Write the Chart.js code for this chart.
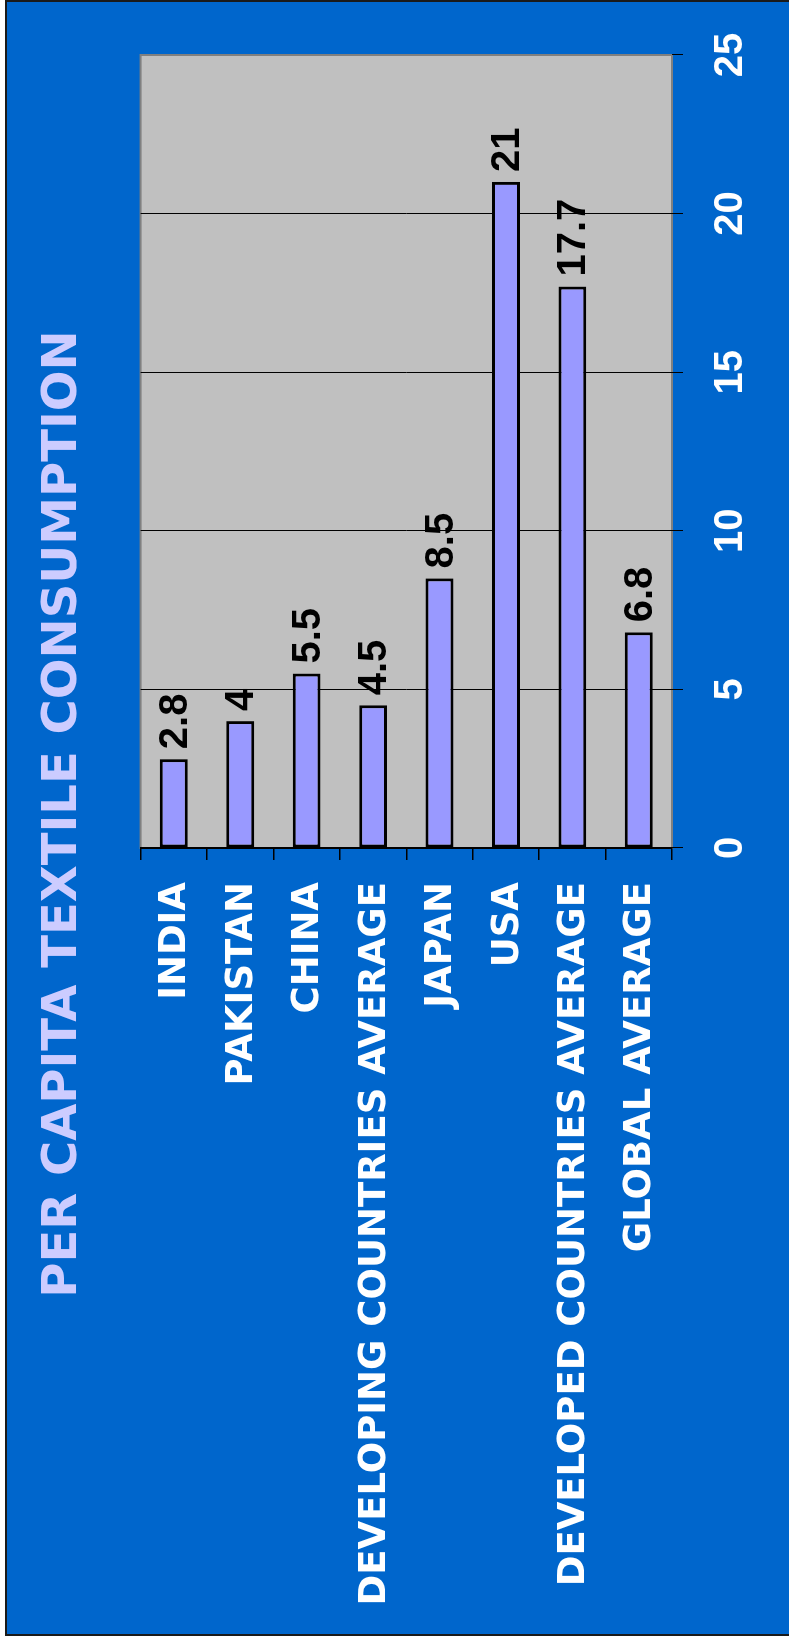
<!DOCTYPE html>
<html>
<head>
<meta charset="utf-8">
<title>Per Capita Textile Consumption</title>
<script src="https://cdn.jsdelivr.net/npm/chart.js@4"></script>
<style>
  html, body { margin: 0; padding: 0; background: #fff; overflow: hidden; }
  body { width: 789px; height: 1644px; position: relative; }
  #frame {
    position: absolute; left: 5px; top: 0; width: 790px; height: 1636px;
    box-sizing: border-box; background: #0066CC;
    border: 2px solid #1a1a1a; border-right: none;
  }
  /* the chart is laid out landscape and turned a quarter turn to stand upright */
  #wrap {
    position: absolute; left: 0; top: 0; width: 1644px; height: 789px;
    transform-origin: 0 0; transform: translateY(1644px) rotate(-90deg);
  }
</style>
</head>
<body>
<div id="frame"></div>
<div id="wrap"><canvas id="chart" width="1644" height="789"></canvas></div>
<script>
// Data
const categories = ['INDIA', 'PAKISTAN', 'CHINA', 'DEVELOPING COUNTRIES AVERAGE', 'JAPAN', 'USA', 'DEVELOPED COUNTRIES AVERAGE', 'GLOBAL AVERAGE'];
const consumption = [2.8, 4, 5.5, 4.5, 8.5, 21, 17.7, 6.8];
const valueTicks = [0, 5, 10, 15, 20, 25];

// Grey plot area with its frame
const plotBackground = {
  id: 'plotBackground',
  beforeDraw(chart) {
    const { ctx, chartArea: a } = chart;
    ctx.save();
    ctx.fillStyle = '#C0C0C0';
    ctx.fillRect(a.left, a.top, a.right - a.left, a.bottom - a.top);
    ctx.strokeStyle = '#808080';
    ctx.lineWidth = 2;
    ctx.strokeRect(a.left, a.top, a.right - a.left, a.bottom - a.top);
    ctx.restore();
  }
};

// Value written past the end of each bar
const barValues = {
  id: 'barValues',
  afterDatasetsDraw(chart) {
    const { ctx } = chart;
    ctx.save();
    ctx.font = 'bold 40px "Liberation Sans", Arial, sans-serif';
    ctx.fillStyle = '#000';
    ctx.textAlign = 'left';
    ctx.textBaseline = 'middle';
    chart.getDatasetMeta(0).data.forEach((bar, i) => {
      ctx.fillText(String(consumption[i]), bar.x + 10, bar.y + 2);
    });
    ctx.restore();
  }
};

const ctx = document.getElementById('chart').getContext('2d');
new Chart(ctx, {
  type: 'bar',
  data: {
    labels: categories,
    datasets: [{
      data: consumption,
      backgroundColor: '#9999FF',
      borderColor: '#000',
      borderWidth: 3,
      borderSkipped: false,
      categoryPercentage: 1,
      barPercentage: 0.42
    }]
  },
  options: {
    indexAxis: 'y',
    responsive: false,
    animation: false,
    devicePixelRatio: 1,
    layout: { padding: { left: 16, right: 0, top: 0, bottom: 0 } },
    plugins: {
      legend: { display: false },
      tooltip: { enabled: false },
      title: {
        display: true,
        text: 'PER CAPITA TEXTILE CONSUMPTION',
        color: '#CCCCFF',
        font: { family: '"DejaVu Sans", Verdana, sans-serif', size: 48, weight: 'bold' },
        padding: { top: 35, bottom: 48 }
      }
    },
    scales: {
      x: {
        type: 'linear',
        position: 'bottom',
        min: 0,
        max: 25,
        afterBuildTicks: s => { s.ticks = valueTicks.map(v => ({ value: v })); },
        afterFit: s => { s.height = 117; },
        ticks: {
          color: '#fff',
          padding: 24,
          font: { family: '"Liberation Sans", Arial, sans-serif', size: 40, weight: 'bold' }
        },
        grid: {
          color: c => (c.tick && c.tick.value > 0 && c.tick.value < 25) ? '#000' : 'rgba(0,0,0,0)',
          tickColor: '#000',
          tickLength: 11,
          lineWidth: 1
        },
        border: { display: false }
      },
      y: {
        type: 'category',
        position: 'left',
        afterFit: s => { s.width = 780; },
        ticks: {
          color: '#fff',
          padding: 22,
          labelOffset: 2,
          font: { family: '"DejaVu Sans", Verdana, sans-serif', size: 37, weight: 'bold' }
        },
        grid: {
          offset: true,
          drawOnChartArea: false,
          color: '#000',
          tickLength: 12,
          lineWidth: 1.5
        },
        border: { color: '#000', width: 2 }
      },
      // empty strip on the far side that leaves room for the last value label
      yRight: {
        type: 'category',
        position: 'right',
        afterFit: s => { s.width = 55; },
        ticks: { display: false },
        grid: { display: false },
        border: { display: false }
      }
    }
  },
  plugins: [plotBackground, barValues]
});
</script>
</body>
</html>
